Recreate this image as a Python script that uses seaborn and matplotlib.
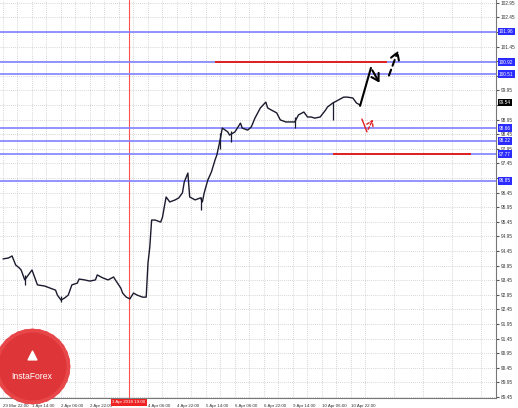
import numpy as np
import pandas as pd
import matplotlib
matplotlib.use("Agg")
import matplotlib.pyplot as plt
import seaborn as sns

# price path (bar index, close)
bars = [0, 3, 5, 7, 9, 10, 12, 14, 16, 18, 19, 23, 26, 29, 30, 32, 34, 36, 38, 41,
        42, 45, 48, 51, 52, 55, 58, 61, 62, 65, 66, 68, 70, 72, 74, 77, 79, 80, 81, 82,
        84, 87, 88, 89, 90, 92, 95, 97, 99, 100, 102, 103, 106, 109, 110, 111, 113, 115, 117, 118,
        120, 121, 124, 125, 128, 131, 132, 135, 137, 139, 142, 145, 146, 148, 151, 153, 156, 158, 161, 163,
        166, 168, 170, 172, 175, 178, 179, 182, 185, 188, 190, 193, 195, 197]
closes = [94.18, 94.21, 94.28, 93.97, 93.87, 93.80, 93.46, 93.63, 93.80, 93.46, 93.29, 93.25, 93.18, 93.11, 92.94, 92.77, 92.84, 92.94, 93.29, 93.35,
          93.49, 93.46, 93.42, 93.46, 93.63, 93.53, 93.46, 93.56, 93.46, 93.18, 93.01, 92.87, 92.81, 93.01, 92.94, 92.87, 92.87, 94.04, 94.59, 95.51,
          95.51, 95.44, 95.61, 95.96, 96.30, 96.13, 96.20, 96.27, 96.44, 96.81, 97.12, 96.30, 96.20, 96.27, 96.13, 96.44, 96.88, 97.16, 97.57, 97.74,
          98.32, 98.66, 98.53, 98.42, 98.53, 98.83, 98.66, 98.59, 98.70, 99.00, 99.35, 99.55, 99.35, 99.28, 99.18, 98.94, 98.87, 98.87, 98.87, 99.11,
          99.21, 99.04, 99.04, 99.00, 99.04, 99.28, 99.38, 99.52, 99.62, 99.72, 99.72, 99.69, 99.52, 99.45]

# longer wicks (bar, low, high)
wick_bars = [12, 32, 109, 120, 126, 161, 182]
wick_lows = [93.29, 92.70, 95.85, 97.95, 98.18, 98.66, 98.94]
wick_highs = [93.63, 92.92, 96.30, 98.50, 98.55, 99.05, 99.55]

# horizontal levels
blue_levels = [101.96, 100.92, 100.51, 98.66, 98.22, 97.77, 96.85]
current_price = 99.54
red_levels = [100.92, 97.77]
red_starts = [117, 182]
red_ends = [212, 258]
vline_bar = 69.5

# forecast arrows
solid_x = [197, 203, 208.5]
solid_y = [99.42, 100.72, 100.13]
dash_x = [212.4, 218.5]
dash_y = [100.37, 101.40]
red_x = [198, 200.8, 204.7]
red_y = [98.97, 98.53, 99.04]

xtick_bars = [0, 16, 32, 48, 64, 80, 96, 112, 128, 144, 160, 176, 192]
xtick_labels = ["29 Mar 22:00", "1 Apr 14:00", "2 Apr 06:00", "2 Apr 22:00", "",
                "4 Apr 06:00", "4 Apr 22:00", "5 Apr 14:00", "6 Apr 06:00", "6 Apr 22:00",
                "9 Apr 14:00", "10 Apr 06:00", "10 Apr 22:00"]

sns.set_style("white")
plt.rcParams['font.family'] = ['Liberation Sans', 'DejaVu Sans']

fig = plt.figure(figsize=(5.18, 4.08), dpi=100)
ax = fig.add_axes([0, 10 / 408, 496 / 518, 398 / 408])

df = pd.DataFrame({"bar": bars, "close": closes})
sns.lineplot(data=df, x="bar", y="close", ax=ax, color="#1a1a2e", linewidth=1.0, zorder=5)
ax.vlines(wick_bars, wick_lows, wick_highs, color="#1a1a2e", linewidth=0.9, zorder=5)

ax.set_xlim(-1.655, 272.0)
ax.set_ylim(89.416, 103.046)

# grid and ticks; tick labels hidden under level boxes like the terminal does
yt = np.arange(89.45, 103.0, 0.5)
marks = blue_levels + [current_price]
ylabels = ["" if min(abs(v - m) for m in marks) < 0.15 else f"{v:.2f}" for v in yt]
ax.set_yticks(yt)
ax.set_yticklabels(ylabels)
ax.set_xticks(xtick_bars)
ax.set_xticklabels(xtick_labels, ha="left")
ax.set_xticks(np.arange(8, 272, 16), minor=True)
ax.grid(True, which="both", color="#c8c8c8", linestyle=(0, (1, 1.5)), linewidth=0.6)
ax.set_axisbelow(True)

ax.yaxis.tick_right()
ax.tick_params(axis="y", labelsize=3.4, length=2, pad=1.5, colors="#555555", labelcolor="#333333")
ax.tick_params(axis="x", labelsize=3.2, length=3, pad=1, colors="#555555", labelcolor="#333333")
ax.tick_params(axis="x", which="minor", length=0)
ax.set_xlabel("")
ax.set_ylabel("")
for s in ["left", "top"]:
    ax.spines[s].set_visible(False)
for s in ["right", "bottom"]:
    ax.spines[s].set_color("#777777")
    ax.spines[s].set_linewidth(0.8)

# levels
for lv in blue_levels:
    ax.axhline(lv, color="#8080ff", linewidth=1.4, alpha=0.85, zorder=3)
for lv, a, b in zip(red_levels, red_starts, red_ends):
    ax.hlines(lv, a, b, color="#e02020", linewidth=1.4, zorder=4)
ax.axvline(vline_bar, color="#ff5050", linewidth=0.8, zorder=2)

ytr = ax.get_yaxis_transform()
for lv in blue_levels:
    ax.text(1.006, lv, f"{lv:.2f}", transform=ytr, fontsize=3.4, color="white",
            va="center", ha="left", clip_on=False, zorder=10,
            bbox=dict(boxstyle="square,pad=0.25", facecolor="#2b2bff", edgecolor="none"))
ax.text(1.006, current_price, f"{current_price:.2f}", transform=ytr, fontsize=3.4, color="white",
        va="center", ha="left", clip_on=False, zorder=10,
        bbox=dict(boxstyle="square,pad=0.25", facecolor="#000000", edgecolor="none"))

# red time label on x axis
xtr = ax.get_xaxis_transform()
ax.text(vline_bar, -0.006, "3 Apr 2018 19:00", transform=xtr, fontsize=3.2, color="white",
        ha="center", va="top", clip_on=False, zorder=10,
        bbox=dict(boxstyle="square,pad=0.3", facecolor="#ee2222", edgecolor="none"))

# forecast arrows
ax.plot(solid_x[:2], solid_y[:2], color="black", linewidth=1.5, zorder=8)
ax.annotate("", xy=(solid_x[2], solid_y[2]), xytext=(solid_x[1], solid_y[1]),
            arrowprops=dict(arrowstyle="->,head_length=0.5,head_width=0.3", color="black", lw=1.5), zorder=8)
ax.annotate("", xy=(dash_x[1], dash_y[1]), xytext=(dash_x[0], dash_y[0]),
            arrowprops=dict(arrowstyle="->,head_length=0.5,head_width=0.3", color="black", lw=1.5,
                            linestyle=(0, (3, 2))), zorder=8)
ax.plot(red_x[:2], red_y[:2], color="#e02020", linewidth=1.0, zorder=8)
ax.annotate("", xy=(red_x[2], red_y[2]), xytext=(red_x[1], red_y[1]),
            arrowprops=dict(arrowstyle="->,head_length=0.4,head_width=0.25", color="#e02020", lw=1.0,
                            linestyle=(0, (2, 1.5))), zorder=8)

# InstaForex badge
atr = ax.transAxes
ax.scatter([0.064], [0.08], s=2900, marker=(16, 0, 0), color="#e8474a", transform=atr, zorder=9, clip_on=False)
ax.scatter([0.064], [0.08], s=2900, marker=(16, 0, 11.25), color="#e8474a", transform=atr, zorder=9, clip_on=False)
ax.scatter([0.064], [0.08], s=2300, marker="o", color="#de3538", transform=atr, zorder=9, clip_on=False)
ax.scatter([0.064], [0.108], s=40, marker="^", color="white", transform=atr, zorder=10)
ax.text(0.064, 0.055, "InstaForex", transform=atr, fontsize=6.2, color="white",
        ha="center", va="center", zorder=10)

fig.savefig("out.png", dpi=100)
